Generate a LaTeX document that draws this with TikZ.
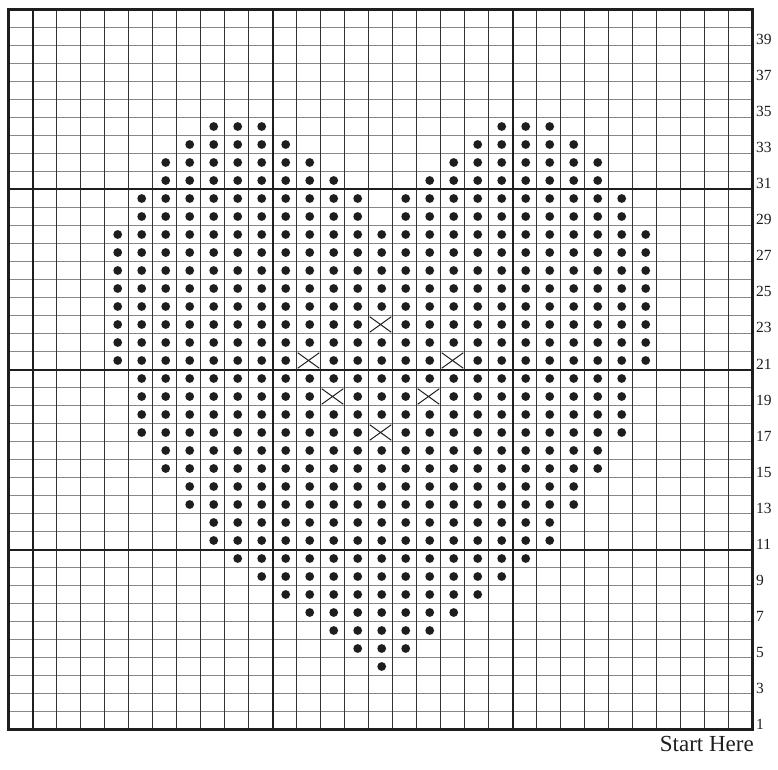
\documentclass[tikz,border=0pt]{standalone}
\usepackage{fontspec}
\setmainfont{Liberation Serif}
\usetikzlibrary{calc}
\definecolor{ink}{HTML}{1E1E1E}
\definecolor{rule}{HTML}{333333}
\definecolor{hrule}{HTML}{888888}
\tikzset{
  rowline/.style={draw=hrule,line width=1.5pt},
  colline/.style={draw=rule,line width=1.1pt},
  majorline/.style={draw=ink,line width=2pt},
  border/.style={draw=ink,line width=2.6pt},
  stitch/.style={fill=ink},
  purl/.style={draw=ink,line width=1pt},
  rownum/.style={font=\fontsize{15.5}{16}\selectfont,text=ink,anchor=base west,inner sep=0pt},
  caption/.style={font=\fontsize{23}{23}\selectfont,text=ink,anchor=base east,inner sep=0pt},
}

\begin{document}
\begin{tikzpicture}[x=24pt,y=18pt]
  % One unit is one cell: 31 stitches wide, 40 rows high, row 1 at the bottom.
  \useasboundingbox (-8.5pt,-39.5pt) rectangle (769.5pt,729.5pt);

  % Grid: grey row rules under dark stitch rules.
  \foreach \r in {1,...,39} \draw[rowline] (0,\r) -- (31,\r);
  \foreach \c in {1,...,30} \draw[colline] (\c,0) -- (\c,40);
  % Heavier rules every ten cells, counted from the bottom right corner.
  \foreach \r in {10,20,30} \draw[majorline] (0,\r) -- (31,\r);
  \foreach \c in {1,11,21} \draw[majorline] (\c,0) -- (\c,40);
  \draw[border] (0,0) rectangle (31,40);

  % Heart: row / first stitch / last stitch (stitch 0 is the leftmost column).
  \foreach \r/\a/\b in {4/15/15,5/14/16,6/13/17,7/12/18,8/11/19,9/10/20,10/9/21,
      11/8/22,12/8/22,13/7/23,14/7/23,15/6/24,16/6/24,
      17/5/14,17/16/25,18/5/25,19/5/12,19/14/16,19/18/25,20/5/25,
      21/4/11,21/13/17,21/19/26,22/4/26,23/4/14,23/16/26,
      24/4/26,25/4/26,26/4/26,27/4/26,28/4/26,
      29/5/14,29/16/25,30/5/14,30/16/25,31/6/13,31/17/24,
      32/6/12,32/18/24,33/7/11,33/19/23,34/8/10,34/20/22}
    \foreach \c in {\a,...,\b} \fill[stitch] (\c+.55,\r-.5) circle (4.4pt);

  % Crossed cells inside the heart.
  \foreach \c/\r in {15/23,12/21,18/21,13/19,17/19,15/17}
    \draw[purl] (\c+.05,\r-.07) -- (\c+.95,\r-.93) (\c+.05,\r-.93) -- (\c+.95,\r-.07);

  % Odd row numbers on the right.
  \foreach \r in {1,3,...,39}
    \node[rownum] (row\r) at ($(31,\r-1)+(3.5pt,.5pt)$) {\r};

  \node[caption] (start) at ($(31,0)+(1.5pt,-22pt)$) {Start Here};
\end{tikzpicture}
\end{document}
